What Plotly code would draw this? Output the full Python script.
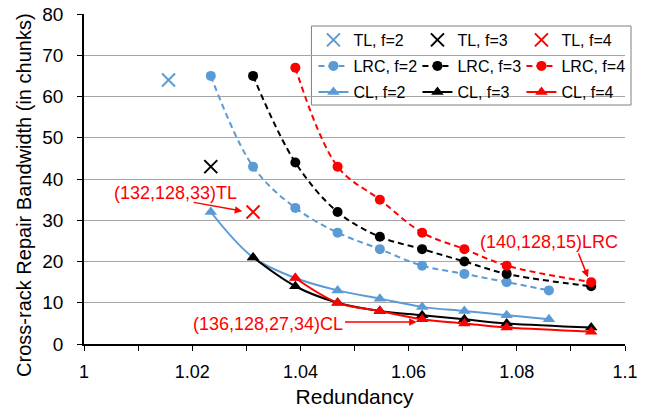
import plotly.graph_objects as go

K = 128
# TL codes (single points)
tl_f2_n = [130]; tl_f2_bw = [64]
tl_f3_n = [131]; tl_f3_bw = [43]
tl_f4_n = [132]; tl_f4_bw = [32]
# LRC codes
lrc_f2_n = [131, 132, 133, 134, 135, 136, 137, 138, 139]
lrc_f2_bw = [65, 43, 33, 27, 23, 19, 17, 15, 13]
lrc_f3_n = [132, 133, 134, 135, 136, 137, 138, 140]
lrc_f3_bw = [65, 44, 32, 26, 23, 20, 17, 14]
lrc_f4_n = [133, 134, 135, 136, 137, 138, 140]
lrc_f4_bw = [67, 43, 35, 27, 23, 19, 15]
# CL codes
cl_f2_n = [131, 132, 133, 134, 135, 136, 137, 138, 139]
cl_f2_bw = [32, 21, 16, 13, 11, 9, 8, 7, 6]
cl_f3_n = [132, 133, 134, 135, 136, 137, 138, 140]
cl_f3_bw = [21, 14, 10, 8, 7, 6, 5, 4]
cl_f4_n = [133, 134, 135, 136, 137, 138, 140]
cl_f4_bw = [16, 10, 8, 6, 5, 4, 3]

BLUE = "#5B9BD5"
BLACK = "#000000"
RED = "#FF0000"
FONT = "Liberation Sans, Arial, sans-serif"

def red(ns):
    return [n / K for n in ns]

fig = go.Figure()

# TL
for ns, ys, col, nm in [(tl_f2_n, tl_f2_bw, BLUE, "TL, f=2"),
                        (tl_f3_n, tl_f3_bw, BLACK, "TL, f=3"),
                        (tl_f4_n, tl_f4_bw, RED, "TL, f=4")]:
    fig.add_trace(go.Scatter(x=red(ns), y=ys, mode="markers", name=nm, legend="legend",
                             marker=dict(symbol="x-thin", size=13, color=col,
                                         line=dict(color=col, width=2))))
# LRC
for ns, ys, col, nm in [(lrc_f2_n, lrc_f2_bw, BLUE, "LRC, f=2"),
                        (lrc_f3_n, lrc_f3_bw, BLACK, "LRC, f=3"),
                        (lrc_f4_n, lrc_f4_bw, RED, "LRC, f=4")]:
    fig.add_trace(go.Scatter(x=red(ns), y=ys, mode="lines+markers", name=nm, legend="legend2",
                             line=dict(color=col, width=2, dash="6px,4px", shape="spline", smoothing=1),
                             marker=dict(symbol="circle", size=10, color=col)))
# CL
for ns, ys, col, nm in [(cl_f2_n, cl_f2_bw, BLUE, "CL, f=2"),
                        (cl_f3_n, cl_f3_bw, BLACK, "CL, f=3"),
                        (cl_f4_n, cl_f4_bw, RED, "CL, f=4")]:
    fig.add_trace(go.Scatter(x=red(ns), y=ys, mode="lines+markers", name=nm, legend="legend3",
                             line=dict(color=col, width=2, shape="spline", smoothing=1),
                             marker=dict(symbol="triangle-up", size=11, color=col)))

# annotations
ann_font = dict(family=FONT, size=18, color=RED)
fig.add_annotation(x=1.01685, y=36.6, text="(132,128,33)TL", showarrow=False, font=ann_font)
fig.add_annotation(x=1.02926, y=32.2, ax=1.0200, ay=34.4, axref="x", ayref="y", text="",
                   showarrow=True, arrowhead=2, arrowsize=1, arrowwidth=1.5, arrowcolor=RED)
fig.add_annotation(x=1.03398, y=4.85, text="(136,128,27,34)CL", showarrow=False, font=ann_font)
fig.add_annotation(x=1.06148, y=5.33, ax=1.04796, ay=5.33, axref="x", ayref="y", text="",
                   showarrow=True, arrowhead=2, arrowsize=1, arrowwidth=1.5, arrowcolor=RED)
fig.add_annotation(x=1.08602, y=24.7, text="(140,128,15)LRC", showarrow=False, font=ann_font)
fig.add_annotation(x=1.09315, y=16.2, ax=1.0913, ay=22.3, axref="x", ayref="y", text="",
                   showarrow=True, arrowhead=2, arrowsize=1, arrowwidth=1.5, arrowcolor=RED)

# y-axis title as rotated annotation (offset below plot centre as in the reference)
fig.add_annotation(xref="paper", yref="paper", x=-0.112, y=0.45, xanchor="center", yanchor="middle",
                   text="Cross-rack Repair Bandwidth (in chunks)", textangle=-90,
                   showarrow=False, font=dict(family=FONT, size=20, color="#000"))

# legend box
fig.add_shape(type="rect", xref="paper", yref="paper", x0=0.4204, x1=1.0111, y0=0.7242, y1=0.9636,
              line=dict(color="#7F7F7F", width=1), fillcolor="white", layer="between")

leg_common = dict(orientation="h", x=0.4241, xanchor="left", yanchor="middle",
                  bgcolor="rgba(0,0,0,0)", borderwidth=0, entrywidth=59,
                  font=dict(family=FONT, size=16, color="#000"))
fig.update_layout(
    width=662, height=413,
    margin=dict(l=84, r=37, t=14, b=69),
    paper_bgcolor="white", plot_bgcolor="white",
    font=dict(family=FONT, color="#000"),
    legend=dict(y=0.9212, **leg_common),
    legend2=dict(y=0.8424, **leg_common),
    legend3=dict(y=0.7636, **leg_common),
    xaxis=dict(range=[1, 1.1], dtick=0.02, tick0=1, showgrid=False, zeroline=False,
               automargin=False,
               showline=True, linecolor="#000", linewidth=1.5,
               ticks="outside", ticklen=5, tickcolor="#000", tickwidth=1,
               ticklabelstandoff=6,
               minor=dict(dtick=0.01, ticks="outside", ticklen=5, tickcolor="#000", showgrid=False),
               tickfont=dict(family=FONT, size=18),
               title=dict(text="Redundancy", font=dict(family=FONT, size=21), standoff=8)),
    yaxis=dict(range=[0, 80], dtick=10, showgrid=True, gridcolor="#A6A6A6", gridwidth=1,
               automargin=False,
               zeroline=False, showline=True, linecolor="#000", linewidth=1.5,
               ticks="outside", ticklen=5, tickcolor="#000",
               ticklabelstandoff=10,
               tickfont=dict(family=FONT, size=19)),
)

fig.write_html("out.html", config={"displayModeBar": False},
               post_script="document.body.style.margin='0';document.body.style.overflow='hidden';")
